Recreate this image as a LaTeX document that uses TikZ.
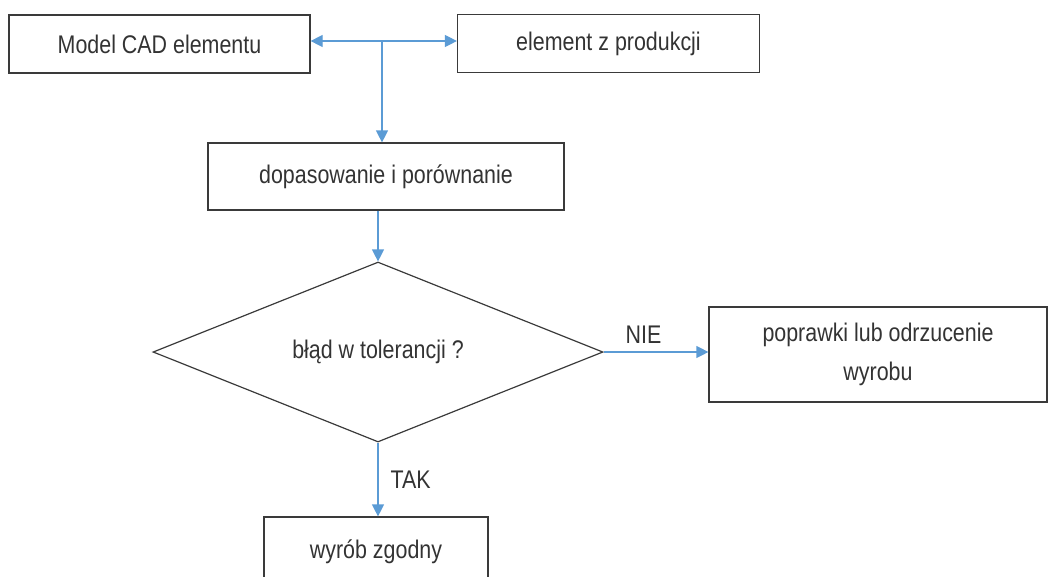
\documentclass[tikz,border=0pt]{standalone}
\usepackage{fontspec}
\setmainfont{Liberation Sans}[FakeStretch=0.84]
\usetikzlibrary{shapes.geometric,arrows.meta}
\definecolor{linegray}{HTML}{3A3A3A}
\definecolor{txtgray}{HTML}{333333}
\definecolor{arrblue}{HTML}{5B9BD5}
\tikzset{
  txtfont/.style={font=\fontsize{25.5}{39}\selectfont},
  box/.style={draw=linegray, line width=1.2pt, rectangle, inner sep=0pt, align=center, text=txtgray, txtfont},
  decision/.style={draw=linegray, line width=1.2pt, diamond, inner sep=0pt, aspect=2.5, text=txtgray, txtfont},
  conn/.style={draw=arrblue, line width=1.2pt, -{Triangle[width=12pt,length=12pt]}},
  lbl/.style={text=txtgray, txtfont, inner sep=2pt}
}
\begin{document}
\begin{tikzpicture}[x=1pt,y=-1pt]
\useasboundingbox (0,0) rectangle (1056,576);
\clip (0,0) rectangle (1056,576);
\node[box, minimum width=301pt, minimum height=58pt] (model) at (159.5,44) {Model CAD elementu};
\node[box, minimum width=302pt, minimum height=58pt] (prod) at (608.5,43.5) {element z produkcji};
\node[box, minimum width=356pt, minimum height=67pt] (dop) at (386,176.5) {dopasowanie i porównanie};
\node[decision, minimum width=450pt, minimum height=180pt] (dec) at (378,352) {błąd w tolerancji ?};
\node[box, minimum width=338pt, minimum height=95pt] (pop) at (878,354.5) {poprawki lub odrzucenie\\wyrobu};
\node[box, minimum width=224pt, minimum height=70pt] (zg) at (376,552) {wyrób zgodny};
\coordinate (junc) at (382,41);
\draw[conn] (junc) -- (junc -| model.east);
\draw[conn] (junc) -- (junc -| prod.west);
\draw[conn] (junc) -- (junc |- dop.north);
\draw[conn] (dec.north |- dop.south) -- (dec.north);
\draw[conn] (dec.east) -- (dec.east -| pop.west) node[lbl, pos=0.38, above=6pt] (nie) {NIE};
\draw[conn] (dec.south) -- (dec.south |- zg.north) node[lbl, pos=0.5, right=10pt] (tak) {TAK};
\end{tikzpicture}
\end{document}
